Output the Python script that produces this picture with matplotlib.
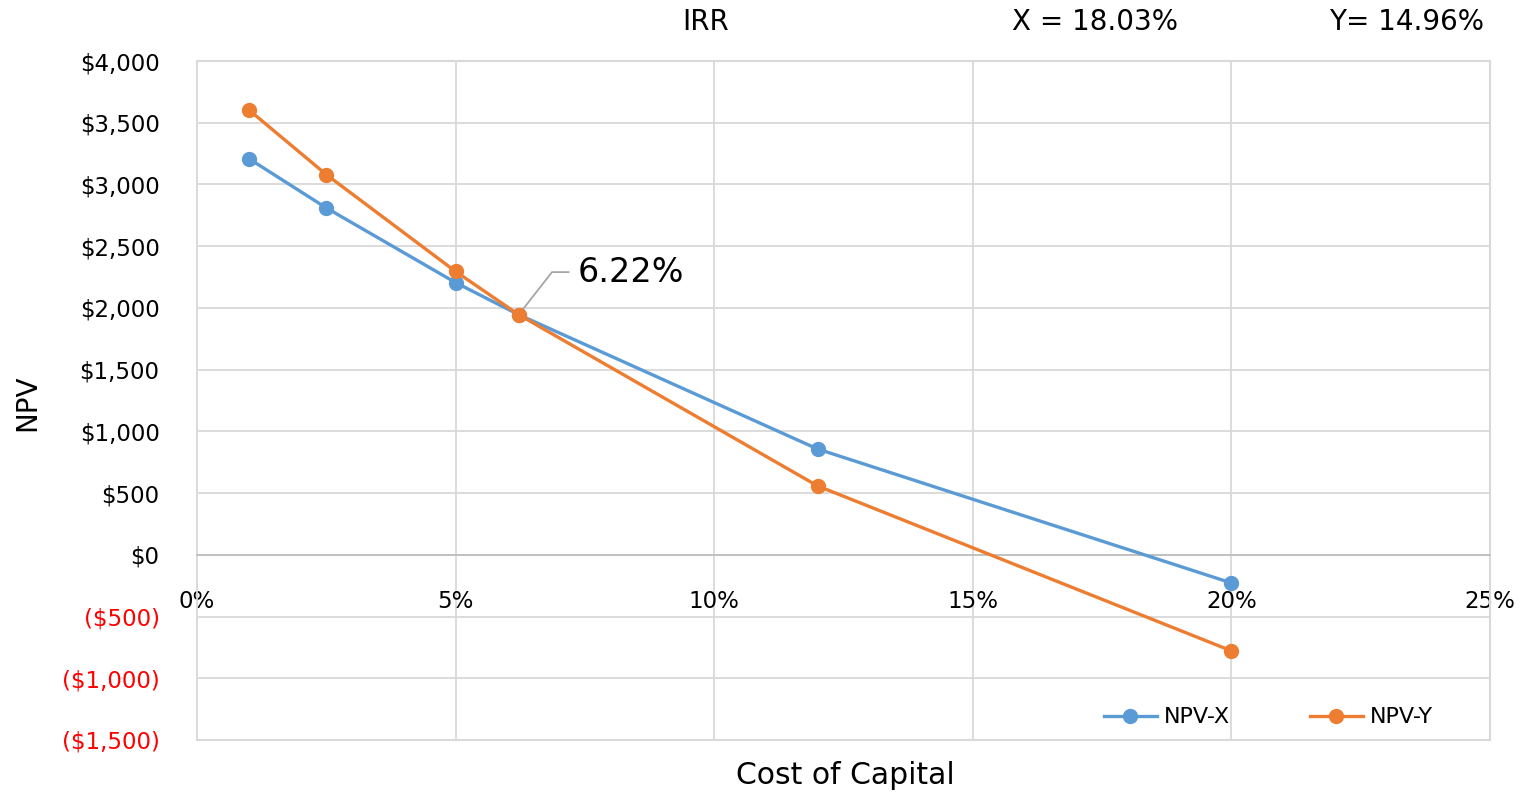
import matplotlib.pyplot as plt
from matplotlib.ticker import FuncFormatter, MultipleLocator

# cost of capital (%) and NPV values
rates = [1, 2.5, 5, 6.22, 12, 20]
npv_x = [3210, 2810, 2205, 1945, 857, -228]
npv_y = [3605, 3080, 2295, 1945, 558, -778]
cross_rate = 6.22
cross_npv = 1945
cross_label = "6.22%"
irr_title = ["IRR", "X = 18.03%", "Y= 14.96%"]

blue = "#5b9bd5"
orange = "#ed7d31"
grid = "#d9d9d9"

plt.rcParams['font.family'] = ['DejaVu Sans']

W, H = 1526, 795
fig = plt.figure(figsize=(W / 100, H / 100), dpi=100)
ax = fig.add_axes([197 / W, 1 - 740 / H, (1490 - 197) / W, (740 - 61) / H])

ax.plot(rates, npv_x, color=blue, lw=2.4, marker='o', ms=10, label="NPV-X", zorder=3)
ax.plot(rates, npv_y, color=orange, lw=2.4, marker='o', ms=10, label="NPV-Y", zorder=4)

ax.set_xlim(0, 25)
ax.set_ylim(-1500, 4000)
ax.xaxis.set_major_locator(MultipleLocator(5))
ax.yaxis.set_major_locator(MultipleLocator(500))
ax.grid(True, color=grid, lw=1.3)
ax.set_axisbelow(True)


def money(v, pos):
    if v < 0:
        return "(${:,.0f})".format(-v)
    return "${:,.0f}".format(v)


ax.yaxis.set_major_formatter(FuncFormatter(money))
ax.xaxis.set_major_formatter(FuncFormatter(lambda v, p: "{:.0f}%".format(v)))
ax.tick_params(length=0, labelsize=16.5)
ax.tick_params(axis='y', pad=27)
ax.tick_params(axis='x', pad=25)
fig.canvas.draw()
for lab in ax.get_yticklabels():
    if lab.get_text().startswith("("):
        lab.set_color("red")

for s in ['top', 'right']:
    ax.spines[s].set_visible(False)
ax.spines['left'].set_color(grid)
ax.spines['left'].set_linewidth(1.3)
ax.spines['bottom'].set_position(('data', 0))
ax.spines['bottom'].set_color("#bfbfbf")
ax.spines['bottom'].set_linewidth(1.3)
# outer frame lines
ax.axhline(-1500, color=grid, lw=1.5, clip_on=False)
ax.axvline(25, color=grid, lw=1.5, clip_on=False)
ax.axhline(4000, color=grid, lw=1.5, clip_on=False)

fig.text(845 / W, 1 - 776 / H, "Cost of Capital", fontsize=21.5, ha='center', va='center')
fig.text(27 / W, 1 - 403 / H, "NPV", fontsize=20, ha='center', va='center', rotation=90)

# crossover annotation
ax.annotate(cross_label, xy=(cross_rate, cross_npv), xytext=(7.35, 2290),
            fontsize=24, va='center', ha='left',
            arrowprops=dict(arrowstyle='-', color='#a6a6a6', lw=1.3,
                            connectionstyle="angle,angleA=0,angleB=52,rad=0",
                            shrinkA=4, shrinkB=0))

# IRR header
fig.text(706 / W, 1 - 22 / H, irr_title[0], fontsize=20, ha='center', va='center')
fig.text(1095 / W, 1 - 22 / H, irr_title[1], fontsize=20, ha='center', va='center')
fig.text(1407 / W, 1 - 22 / H, irr_title[2], fontsize=20, ha='center', va='center')

ax.legend(loc='lower left', bbox_to_anchor=(1088 / W, 1 - 743 / H), bbox_transform=fig.transFigure,
          ncol=2, frameon=False, fontsize=16, handlelength=2.4, columnspacing=3.6,
          handletextpad=0.3, borderaxespad=0.3)

fig.savefig("out.png", dpi=100)
